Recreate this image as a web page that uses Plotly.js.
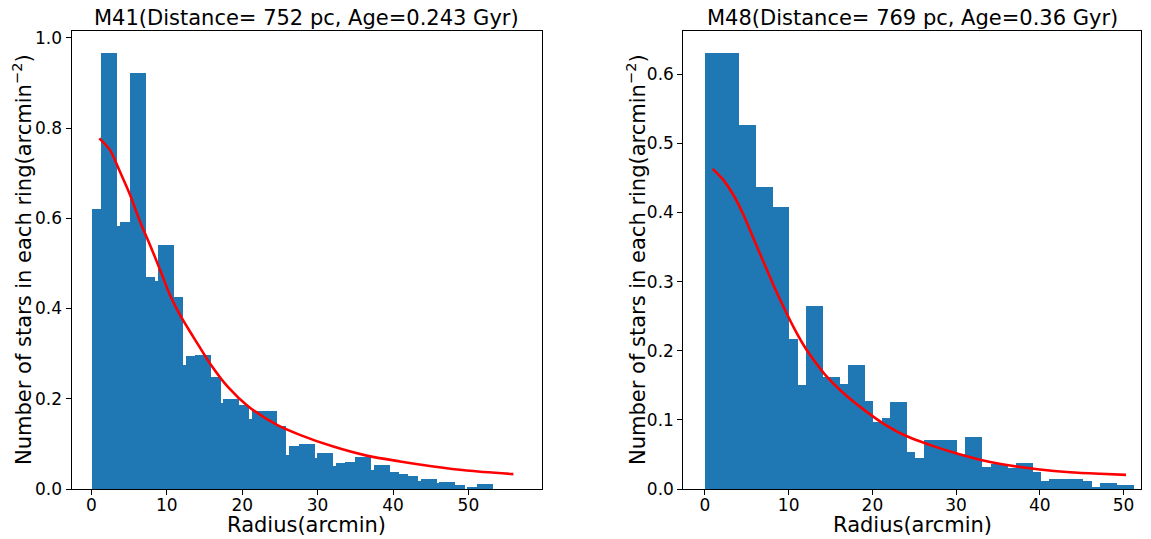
<!DOCTYPE html>
<html>
<head>
<meta charset="utf-8">
<script src="https://cdn.plot.ly/plotly-3.0.1.min.js"></script>
<style>html,body{margin:0;padding:0;background:#fff;}#chart{width:1151px;height:539px;}</style>
</head>
<body>
<div id="chart"></div>
<script>
// ---- M41 data (radius in arcmin, density in stars / arcmin^2) ----
const m41Edges = [0.08, 1.27, 3.40, 3.79, 5.12, 7.24, 8.47, 8.83, 10.95, 12.15, 12.51, 13.74, 15.82, 17.15, 17.45, 19.54, 20.90, 21.30, 24.62, 25.81, 26.21, 27.53, 29.65, 29.92, 32.00, 32.44, 33.63, 34.96, 37.08, 37.48, 39.60, 40.79, 41.99, 43.31, 43.71, 45.84, 46.10, 48.22, 49.54, 49.81, 51.13, 53.26];
const m41Density = [0.621, 0.966, 0.582, 0.592, 0.922, 0.470, 0.462, 0.540, 0.426, 0.274, 0.2945, 0.297, 0.249, 0.191, 0.200, 0.187, 0.156, 0.173, 0.139, 0.076, 0.096, 0.100, 0.069, 0.080, 0.052, 0.058, 0.060, 0.071, 0.043, 0.054, 0.038, 0.034, 0.029, 0.018, 0.023, 0.014, 0.016, 0.0095, 0.0, 0.005, 0.012];
const m41FitR = [1.05, 2.47, 3.79, 5.12, 6.44, 7.77, 9.10, 10.42, 11.75, 13.07, 14.30, 15.82, 18.16, 20.81, 24.62, 27.64, 32.08, 36.51, 40.93, 45.35, 49.78, 55.96];
const m41FitDensity = [0.777, 0.751, 0.703, 0.652, 0.593, 0.541, 0.486, 0.430, 0.386, 0.349, 0.316, 0.276, 0.225, 0.183, 0.142, 0.120, 0.094, 0.074, 0.061, 0.050, 0.041, 0.033];

// ---- M48 data ----
const m48Edges = [0.0, 4.06, 6.09, 8.12, 10.04, 11.15, 12.07, 14.06, 16.09, 17.08, 19.12, 20.07, 21.15, 22.14, 24.13, 25.09, 26.16, 30.11, 31.06, 33.09, 34.17, 36.20, 37.16, 39.19, 40.14, 41.10, 45.16, 46.24, 47.19, 49.22, 51.25];
const m48Density = [0.631, 0.527, 0.437, 0.408, 0.2165, 0.151, 0.265, 0.1626, 0.1525, 0.180, 0.128, 0.0975, 0.103, 0.1264, 0.054, 0.0455, 0.0715, 0.050, 0.0759, 0.0325, 0.0368, 0.031, 0.038, 0.0253, 0.0123, 0.015, 0.011, 0.0036, 0.0094, 0.0065];
const m48FitR = [0.92, 2.19, 3.38, 4.58, 5.77, 6.97, 8.16, 9.36, 10.55, 11.74, 12.54, 14.34, 16.73, 19.12, 21.5, 23.9, 27.2, 30.1, 33.25, 36.44, 40.0, 43.6, 47.2, 50.3];
const m48FitDensity = [0.463, 0.447, 0.4256, 0.397, 0.363, 0.329, 0.2955, 0.264, 0.235, 0.209, 0.194, 0.1655, 0.1366, 0.1134, 0.0932, 0.0773, 0.0624, 0.0513, 0.0412, 0.034, 0.0282, 0.0243, 0.022, 0.0205];

const xTicks = [0, 10, 20, 30, 40, 50];
const m41YTicks = [0.0, 0.2, 0.4, 0.6, 0.8, 1.0];
const m48YTicks = [0.0, 0.1, 0.2, 0.3, 0.4, 0.5, 0.6];
const m41Title = 'M41(Distance= 752 pc, Age=0.243 Gyr)';
const m48Title = 'M48(Distance= 769 pc, Age=0.36 Gyr)';
const xLabel = 'Radius(arcmin)';
const yLabel = 'Number of stars in each ring(arcmin<sup>\u22122</sup>)';

function bars(edges, heights) {
  const x = [], w = [];
  for (let i = 0; i < heights.length; i++) {
    x.push((edges[i] + edges[i + 1]) / 2);
    w.push(edges[i + 1] - edges[i]);
  }
  return {x, w};
}
const b41 = bars(m41Edges, m41Density);
const b48 = bars(m48Edges, m48Density);

const W = 1151, H = 539;
const px = v => v / W;
const py = v => 1 - v / H;
const FONT = 'DejaVu Sans, Liberation Sans, sans-serif';
const BLUE = '#1f77b4';

const traces = [
  {type: 'bar', x: b41.x, y: m41Density, width: b41.w, marker: {color: BLUE, line: {width: 0}}, xaxis: 'x', yaxis: 'y'},
  {type: 'scatter', mode: 'lines', x: m41FitR, y: m41FitDensity, line: {color: 'red', width: 2.6, shape: 'spline', smoothing: 0.8}, xaxis: 'x', yaxis: 'y'},
  {type: 'bar', x: b48.x, y: m48Density, width: b48.w, marker: {color: BLUE, line: {width: 0}}, xaxis: 'x2', yaxis: 'y2'},
  {type: 'scatter', mode: 'lines', x: m48FitR, y: m48FitDensity, line: {color: 'red', width: 2.6, shape: 'spline', smoothing: 0.8}, xaxis: 'x2', yaxis: 'y2'}
];

const axCommon = {
  showline: true, mirror: true, linecolor: '#000', linewidth: 1,
  ticks: 'outside', ticklen: 5, tickwidth: 1, tickcolor: '#000',
  showgrid: false, zeroline: false, fixedrange: true,
  tickfont: {family: FONT, size: 17, color: '#000'}
};
const xCommon = Object.assign({}, axCommon, {ticklabelstandoff: -4});

const layout = {
  width: W, height: H,
  margin: {l: 0, r: 0, t: 0, b: 0},
  paper_bgcolor: '#fff', plot_bgcolor: '#fff',
  showlegend: false, barmode: 'overlay', bargap: 0,
  xaxis: Object.assign({}, xCommon, {domain: [px(71.5), px(541.7)], range: [-2.64, 59.72], tickvals: xTicks, anchor: 'y'}),
  yaxis: Object.assign({}, axCommon, {domain: [py(489), py(31)], range: [0, 1.015], tickvals: m41YTicks, tickformat: '.1f', anchor: 'x'}),
  xaxis2: Object.assign({}, xCommon, {domain: [px(683.3), px(1141)], range: [-2.59, 52.09], tickvals: xTicks, anchor: 'y2'}),
  yaxis2: Object.assign({}, axCommon, {domain: [py(489), py(31)], range: [0, 0.6624], tickvals: m48YTicks, tickformat: '.1f', anchor: 'x2'}),
  annotations: [
    {text: m41Title, x: px(306.6), y: py(18), xref: 'paper', yref: 'paper', xanchor: 'center', yanchor: 'middle', showarrow: false, font: {family: FONT, size: 21, color: '#000'}},
    {text: m48Title, x: px(912), y: py(18), xref: 'paper', yref: 'paper', xanchor: 'center', yanchor: 'middle', showarrow: false, font: {family: FONT, size: 21, color: '#000'}},
    {text: xLabel, x: px(306.6), y: py(525), xref: 'paper', yref: 'paper', xanchor: 'center', yanchor: 'middle', showarrow: false, font: {family: FONT, size: 21, color: '#000'}},
    {text: xLabel, x: px(912), y: py(525), xref: 'paper', yref: 'paper', xanchor: 'center', yanchor: 'middle', showarrow: false, font: {family: FONT, size: 21, color: '#000'}},
    {text: yLabel, x: px(22), y: py(260), xref: 'paper', yref: 'paper', xanchor: 'center', yanchor: 'middle', textangle: -90, showarrow: false, font: {family: FONT, size: 21, color: '#000'}},
    {text: yLabel, x: px(636), y: py(260), xref: 'paper', yref: 'paper', xanchor: 'center', yanchor: 'middle', textangle: -90, showarrow: false, font: {family: FONT, size: 21, color: '#000'}}
  ]
};

Plotly.newPlot('chart', traces, layout, {staticPlot: true, displayModeBar: false});
</script>
</body>
</html>
